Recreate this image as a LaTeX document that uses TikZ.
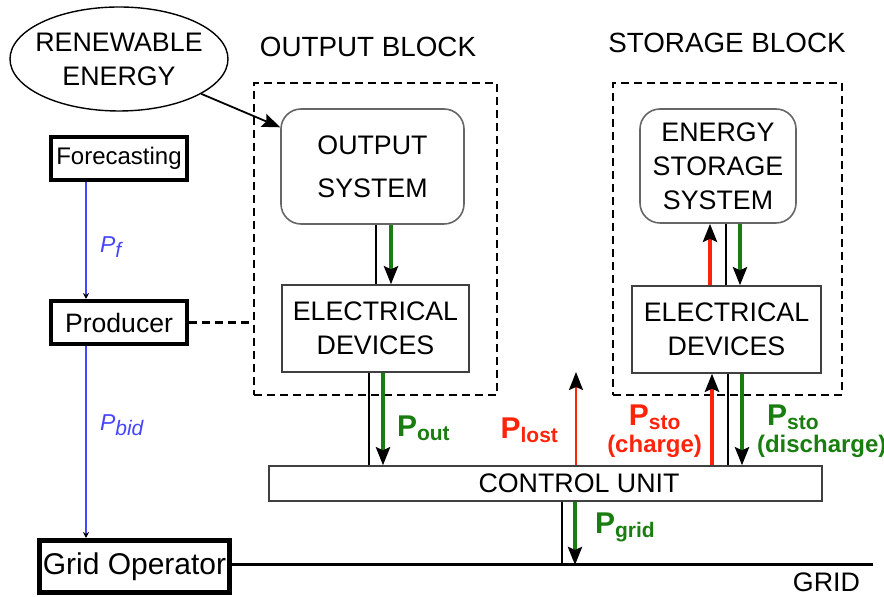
\documentclass[tikz,border=0pt]{standalone}
\usepackage{fontspec}
\setmainfont{Liberation Sans}
\usetikzlibrary{positioning,calc,arrows.meta,shapes.geometric}
\definecolor{flowgreen}{RGB}{25,125,15}
\definecolor{flowred}{RGB}{255,35,10}
\definecolor{flowblue}{RGB}{70,70,255}
\newcommand{\pw}[1]{{\bfseries\fontsize{15}{15}\selectfont P\raisebox{-2pt}{\fontsize{10.5}{10.5}\selectfont #1}}}
\newcommand{\pin}[1]{{\itshape\fontsize{11.5}{11.5}\selectfont P\raisebox{-2.5pt}{\fontsize{10.5}{10.5}\selectfont #1}}}
\tikzset{font=\fontsize{13.4}{17}\selectfont}

\begin{document}
\begin{tikzpicture}[x=0.5pt, y=-0.5pt,
	>={Stealth[length=9pt, width=7pt, inset=1.5pt, color=black]},
	heavy/.style={draw, line width=2pt, inner sep=0pt},
	blockbox/.style={draw, line width=1.2pt, dash pattern=on 4pt off 2.5pt, inner sep=0pt},
	sysbox/.style={draw=black!60, line width=0.8pt, rounded corners=10pt, inner sep=0pt, align=center},
	devbox/.style={draw=black!75, line width=0.7pt, inner sep=0pt, align=center},
	infoline/.style={draw=flowblue, line width=0.6pt, -{Stealth[length=3pt, width=3pt, color=black]}},
	bus/.style={line width=0.6pt},
	gflow/.style={draw=flowgreen, line width=1.8pt, ->},
	rflow/.style={draw=flowred, line width=1.8pt, ->},
	title/.style={font=\fontsize{13.9}{17}\selectfont}]
	\useasboundingbox (0,0) rectangle (884,597);

	\node[ellipse, draw, line width=0.7pt, minimum width=109pt, minimum height=52pt, inner xsep=-4pt, inner ysep=0pt, align=center] (energy) at (119,59) {RENEWABLE\\ENERGY};
	\node[heavy, minimum width=68pt, minimum height=21.5pt, font=\fontsize{12}{12}\selectfont] (fore) at (119,158.5) {Forecasting};
	\node[heavy, minimum width=68pt, minimum height=21.5pt, font=\fontsize{13.3}{13.3}\selectfont] (prod) at (119,322.5) {Producer};
	\node[heavy, line width=2.5pt, minimum width=95pt, minimum height=26pt, font=\fontsize{15}{15}\selectfont] (gridop) at (134.5,566.5) {Grid Operator};

	\node[blockbox, minimum width=121.5pt, minimum height=156pt] (outblk) at (375.5,239) {};
	\node[title] (outtitle) at (368,47) {OUTPUT BLOCK};
	\node[sysbox, minimum width=91.5pt, minimum height=57.5pt, font=\fontsize{13.4}{21.5}\selectfont] (outsys) at (372.5,166.5) {OUTPUT\\SYSTEM};
	\node[devbox, minimum width=93.5pt, minimum height=43.5pt] (outdev) at (375.5,328.5) {ELECTRICAL\\DEVICES};

	\node[blockbox, minimum width=114.5pt, minimum height=156pt] (stoblk) at (727.5,239) {};
	\node[title] (stotitle) at (727,43) {STORAGE BLOCK};
	\node[sysbox, minimum width=78pt, minimum height=57pt] (stosys) at (718,166) {ENERGY\\STORAGE\\SYSTEM};
	\node[devbox, minimum width=94.5pt, minimum height=43.5pt] (stodev) at (726.5,329.5) {ELECTRICAL\\DEVICES};

	\node[devbox, minimum width=276.5pt, minimum height=17.5pt] (ctrl) at (545.5,483.5) {};
	\node (ctrltext) at (579,483.5) {CONTROL UNIT};

	\coordinate (gridend) at (873,565);
	\node[anchor=east] (gridtext) at (867,582) {GRID};

	\coordinate (info) at (86,0);
	\coordinate (ob1) at (376,0);
	\coordinate (og1) at (391,0);
	\coordinate (ob2) at (369,0);
	\coordinate (og2) at (383,0);
	\coordinate (lostend) at (576,372);
	\coordinate (sr1) at (710,0);
	\coordinate (sb1) at (726,0);
	\coordinate (sg1) at (740,0);
	\coordinate (sr2) at (712,0);
	\coordinate (sb2) at (728,0);
	\coordinate (sg2) at (742,0);
	\coordinate (gb) at (562,0);
	\coordinate (gg) at (575,0);

	\draw [line width=1.5pt] (gridop.east |- gridend) -- (gridend);
	\draw [infoline] (info |- fore.south) -- (info |- prod.north);
	\draw [infoline] (info |- prod.south) -- (info |- gridop.north);
	\node[anchor=west, text=flowblue] (pf) at (93,247) {\pin{f}};
	\node[anchor=west, text=flowblue] (pbid) at (93,425) {\pin{bid}};
	\draw [blockbox] (prod.east) -- (prod.east -| outblk.west);

	\draw [->, line width=0.9pt] (energy) -- (outsys.157);

	\draw [bus] (ob1 |- outsys.south) -- (ob1 |- outdev.north);
	\draw [gflow] (og1 |- outsys.south) -- (og1 |- outdev.north);
	\draw [bus, line width=1pt] (ob2 |- outdev.south) -- (ob2 |- ctrl.north);
	\draw [gflow] (og2 |- outdev.south) -- (og2 |- ctrl.north);
	\node[anchor=west, text=flowgreen] (pout) at (390,428) {\pw{out}};

	\draw [rflow, line width=1.1pt] (lostend |- ctrl.north) -- (lostend);
	\node[anchor=east, text=flowred] (plost) at (565,430) {\pw{lost}};

	\draw [rflow] (sr1 |- stodev.north) -- (sr1 |- stosys.south);
	\draw [bus] (sb1 |- stosys.south) -- (sb1 |- stodev.north);
	\draw [gflow] (sg1 |- stosys.south) -- (sg1 |- stodev.north);
	\draw [rflow, line width=2.2pt] (sr2 |- ctrl.north) -- (sr2 |- stodev.south);
	\draw [bus, line width=1.2pt] (sb2 |- stodev.south) -- (sb2 |- ctrl.north);
	\draw [gflow] (sg2 |- stodev.south) -- (sg2 |- ctrl.north);
	\node[anchor=east, text=flowred, align=center, font=\bfseries\fontsize{12}{13.5}\selectfont] (pcharge) at (709,431) {\pw{sto}\\(charge)};
	\node[anchor=west, text=flowgreen, align=left, font=\bfseries\fontsize{12}{13.5}\selectfont] (pdis) at (750,431) {\hspace*{5pt}\pw{sto}\\(discharge)};

	\draw [bus, line width=0.8pt] (gb |- ctrl.south) -- (gb |- gridend);
	\draw [gflow] (gg |- ctrl.south) -- (gg |- gridend);
	\node[anchor=west, text=flowgreen] (pgrid) at (588,527) {\pw{grid}};
\end{tikzpicture}
\end{document}
